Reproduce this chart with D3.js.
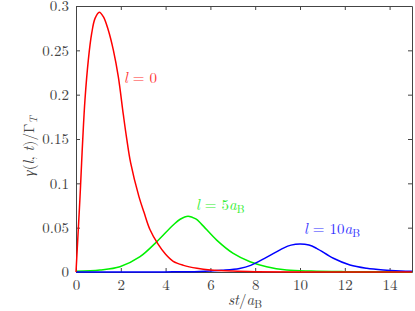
<!DOCTYPE html>
<meta charset="utf-8">
<script src="https://cdn.jsdelivr.net/npm/d3@7"></script>
<style>
body {margin: 0; background: #fff;}
svg text {font-family: "Latin Modern Roman", "Liberation Serif", serif;}
.tick text {font-size: 15px; fill: #444;}
.axis path, .axis line {stroke: #444;}
.lbl {font-size: 15px;}
</style>
<div id="vis"></div>
<script>

// curves: [st/aB, gamma/GammaT]
const red = [[0,0],[0.1,0.047],[0.18,0.085],[0.25,0.123],[0.3,0.149],[0.4,0.194],[0.55,0.239],
  [0.7,0.269],[0.85,0.286],[1.04,0.293],[1.22,0.288],[1.44,0.273],[1.67,0.25],[1.89,0.22],
  [2.11,0.178],[2.26,0.151],[2.44,0.123],[2.81,0.085],[3.04,0.067],[3.3,0.048],[3.65,0.032],
  [4.0,0.02],[4.34,0.012],[4.8,0.0075],[5.4,0.0042],[6.0,0.0023],[7,0.001],[8,0.0004],[10,0.0001],[15,0]];
const green = [[0,0.0008],[1.07,0.0023],[1.96,0.006],[2.86,0.0173],[3.6,0.034],[4.34,0.053],
  [4.65,0.0595],[5.0,0.063],[5.35,0.0598],[5.6,0.054],[6.28,0.036],[7.02,0.021],[7.77,0.0116],
  [8.51,0.006],[9.4,0.0023],[10.5,0.001],[12,0.0004],[15,0.0001]];
const blue = [[0,0],[4,0.0001],[5.5,0.0006],[6.5,0.002],[7.3,0.004],[7.8,0.0075],[8.5,0.0165],
  [9.26,0.027],[9.6,0.0303],[10,0.0316],[10.4,0.0304],[10.74,0.0267],[11.49,0.0155],[12.23,0.0079],
  [12.98,0.0042],[13.72,0.0023],[14.5,0.0012],[15,0.0008]];

const xTicks = [0,2,4,6,8,10,12,14];
const yTicks = [0,0.05,0.1,0.15,0.2,0.25,0.3];

const w = 415, h = 311;
const margin = {top: 6, right: 3, bottom: 39, left: 76};
const width = w - margin.left - margin.right,
    height = h - margin.top - margin.bottom;

let svg = d3.select("#vis").append("svg")
    .attr("width", w).attr("height", h);

let g = svg.append("g")
    .attr("transform", "translate(" + margin.left + "," + margin.top + ")");

let x = d3.scaleLinear().domain([0, 15]).range([0, width]);
let y = d3.scaleLinear().domain([0, 0.3]).range([height, 0]);

const fmt = d => d === 0 ? "0" : String(d);

g.append("g").attr("class", "axis")
    .attr("transform", "translate(0," + height + ")")
    .call(d3.axisBottom(x).tickValues(xTicks).tickFormat(fmt).tickSizeInner(-4).tickSizeOuter(0).tickPadding(7));
g.append("g").attr("class", "axis")
    .call(d3.axisTop(x).tickValues(xTicks).tickFormat("").tickSizeInner(-4).tickSizeOuter(0));
g.append("g").attr("class", "axis")
    .call(d3.axisLeft(y).tickValues(yTicks).tickFormat(fmt).tickSizeInner(-4).tickSizeOuter(0).tickPadding(7));
g.append("g").attr("class", "axis")
    .attr("transform", "translate(" + width + ",0)")
    .call(d3.axisRight(y).tickValues(yTicks).tickFormat("").tickSizeInner(-4).tickSizeOuter(0));
svg.selectAll(".axis").attr("font-family", null);

let line = d3.line()
    .x(d => x(d[0]))
    .y(d => y(d[1]))
    .curve(d3.curveCatmullRom.alpha(0.5));

[[green, "#00f000"], [blue, "#0000ff"], [red, "#ff0000"]].forEach(s => {
  g.append("path")
    .datum(s[0])
    .attr("fill", "none")
    .attr("stroke", s[1])
    .attr("stroke-width", 1.5)
    .attr("d", line);
});

// curve labels
function label(px, py, col, num, sub) {
  let t = svg.append("text").attr("class", "lbl").attr("x", px).attr("y", py).attr("fill", col);
  t.append("tspan").attr("font-style", "italic").text("l");
  t.append("tspan").text(" = " + num);
  if (sub) {
    t.append("tspan").attr("font-style", "italic").text("a");
    t.append("tspan").attr("font-size", "11px").attr("dy", 3).text("B");
  }
}
label(124, 83, "#ff3333", "0", false);
label(196, 210, "#33ee33", "5", true);
label(304, 234, "#3333ff", "10", true);

// axis titles
let yt = svg.append("text").attr("class", "lbl").attr("fill", "#444")
    .attr("transform", "translate(34,146) rotate(-90)").attr("text-anchor", "middle");
yt.append("tspan").attr("font-style", "italic").text("γ");
yt.append("tspan").text("(");
yt.append("tspan").attr("font-style", "italic").text("l");
yt.append("tspan").text(", ");
yt.append("tspan").attr("font-style", "italic").text("t");
yt.append("tspan").text(")/Γ");
yt.append("tspan").attr("font-style", "italic").attr("font-size", "11px").attr("dy", 3).text("T");

let xt = svg.append("text").attr("class", "lbl").attr("fill", "#444")
    .attr("x", 245).attr("y", 305).attr("text-anchor", "middle");
xt.append("tspan").attr("font-style", "italic").text("st");
xt.append("tspan").text("/");
xt.append("tspan").attr("font-style", "italic").text("a");
xt.append("tspan").attr("font-size", "11px").attr("dy", 3).text("B");

</script>
